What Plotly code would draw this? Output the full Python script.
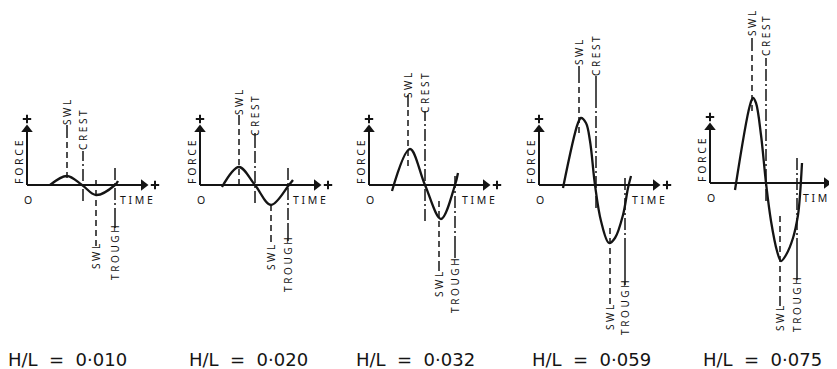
import plotly.graph_objects as go

W, H = 837, 369

# ---------------- data (time / force, arbitrary units, origin of each panel = 0,0) ----------------
NB = "\u00a0"
ratio_values = ["0·010", "0·020", "0·032", "0·059", "0·075"]
ratio_labels = ["H/L" + NB * 2 + "=" + NB * 2 + v for v in ratio_values]

curve_time = [
    [23, 40, 55, 69, 88, 91],
    [22, 39, 55, 71, 89, 93],
    [23, 41, 56, 72, 86, 89],
    [24, 39, 42, 47, 51, 56, 62, 70, 76, 84, 89, 92],
    [25, 40, 43, 46, 51, 56, 61, 67, 71, 76, 83, 88, 90, 92],
]
curve_force = [
    [0, 9, 0, -10, 0, 4],
    [-2, 18, 0, -20, 0, 5],
    [-6, 36, 0, -34, 0, 12],
    [-3, 62, 67, 62, 44, 0, -36, -58, -53, -30, -3, 9],
    [-7, 78, 85, 80, 48, 0, -38, -68, -78, -72, -55, -32, -12, 20],
]

# SWL line at crest: time, dashed from f0 to f1, solid stub to f2, label centre
crest_swl_time = [40, 39, 39, 40, 42]
crest_swl_f = [[7, 49, 60, 72], [0, 60, 70, 82], [19, 78, 90, 99], [52, 105, 119, 132], [72, 138, 145, 159]]
# CREST line
crest_time = [56, 55, 56, 57, 56]
crest_f = [[-16, 27, 34, 55], [-18, 37, 52, 69], [-36, 69, 74, 92], [-23, 77, 109, 129], [-18, 118, 125, 147]]
# SWL line at trough
trough_swl_time = [69, 71, 70, 71, 70]
trough_swl_f = [[5, -55, -61, -72], [-20, -50, -57, -73], [-16, -78, -86, -100], [-43, -113, -119, -133], [-33, -117, -123, -136]]
# TROUGH line
trough_time = [88, 88, 86, 86, 87]
trough_f = [[17, -28, -43, -68], [17, -38, -56, -80], [9, -63, -73, -101], [7, -55, -100, -123], [25, -55, -97, -122]]

# ---------------- layout of the panels (pixel position of each origin) ----------------
origin_x = [19, 192, 361, 531, 702]
origin_y = [177, 177, 177, 177, 175]
label_left_x = [8, 189, 356, 532, 703]
TIME_AXIS_LEN = 121
FORCE_AXIS_LEN = 60
INK = "#141414"
FONT = "Noto Sans"

fig = go.Figure()
annotations = []
shapes = []

for i in range(5):
    sfx = "" if i == 0 else str(i + 1)
    xa, ya = "x" + sfx, "y" + sfx
    ox, oy = origin_x[i], origin_y[i]
    xdict = dict(domain=[0, 1], range=[-ox, W - ox], visible=False, fixedrange=True, anchor=ya)
    ydict = dict(domain=[0, 1], range=[oy - H, oy], visible=False, fixedrange=True, anchor=xa)
    if i:
        xdict["overlaying"] = "x"
        ydict["overlaying"] = "y"
    fig.update_layout(**{"xaxis" + sfx: xdict, "yaxis" + sfx: ydict})

    # axes
    fig.add_trace(go.Scatter(x=[0, TIME_AXIS_LEN - 6], y=[0, 0], mode="lines",
                             line=dict(color=INK, width=2), xaxis=xa, yaxis=ya, hoverinfo="skip"))
    fig.add_trace(go.Scatter(x=[0, 0], y=[0, FORCE_AXIS_LEN - 6], mode="lines",
                             line=dict(color=INK, width=2), xaxis=xa, yaxis=ya, hoverinfo="skip"))
    fig.add_trace(go.Scatter(x=[TIME_AXIS_LEN - 4.5], y=[0], mode="markers",
                             marker=dict(symbol="triangle-right", size=10, color=INK, line=dict(width=0)),
                             xaxis=xa, yaxis=ya, hoverinfo="skip"))
    fig.add_trace(go.Scatter(x=[0], y=[FORCE_AXIS_LEN - 4.5], mode="markers",
                             marker=dict(symbol="triangle-up", size=10, color=INK, line=dict(width=0)),
                             xaxis=xa, yaxis=ya, hoverinfo="skip"))
    fig.add_trace(go.Scatter(x=[TIME_AXIS_LEN + 7, 0], y=[0, FORCE_AXIS_LEN + 6], mode="markers",
                             marker=dict(symbol="cross-thin", size=6, line=dict(color=INK, width=2)),
                             xaxis=xa, yaxis=ya, hoverinfo="skip"))

    # force curve
    fig.add_trace(go.Scatter(x=curve_time[i], y=curve_force[i], mode="lines",
                             line=dict(color=INK, width=2.3, shape="spline", smoothing=1.0),
                             xaxis=xa, yaxis=ya, hoverinfo="skip"))

    # guide lines
    def guide(t, f, dash, label):
        shapes.append(dict(type="line", xref=xa, yref=ya, x0=t, x1=t, y0=f[0], y1=f[1],
                           line=dict(color=INK, width=1.5, dash=dash)))
        shapes.append(dict(type="line", xref=xa, yref=ya, x0=t, x1=t, y0=f[1], y1=f[2],
                           line=dict(color=INK, width=1.5)))
        annotations.append(dict(xref=xa, yref=ya, x=t, y=f[3], text=label, showarrow=False,
                                textangle=-90, xanchor="center", yanchor="middle",
                                font=dict(family=FONT, size=10, color=INK)))

    guide(crest_swl_time[i], crest_swl_f[i], "6px,4px", "S W L")
    guide(crest_time[i], crest_f[i], "12px,3px,2px,3px", "C R E S T")
    guide(trough_swl_time[i], trough_swl_f[i], "6px,4px", "S W L")
    guide(trough_time[i], trough_f[i], "12px,3px,2px,3px", "T R O U G H")

    # axis labels
    annotations.append(dict(xref=xa, yref=ya, x=1, y=-15, text="O", showarrow=False,
                            xanchor="center", yanchor="middle", font=dict(family=FONT, size=10.5, color=INK)))
    annotations.append(dict(xref=xa, yref=ya, x=109, y=-15, text="T I M E", showarrow=False,
                            xanchor="center", yanchor="middle", font=dict(family=FONT, size=10.5, color=INK)))
    annotations.append(dict(xref=xa, yref=ya, x=-8, y=23, text="F O R C E", showarrow=False, textangle=-90,
                            xanchor="center", yanchor="middle", font=dict(family=FONT, size=10.5, color=INK)))
    # H/L caption
    annotations.append(dict(xref=xa, yref=ya, x=label_left_x[i] - ox, y=oy - 351, text=ratio_labels[i],
                            showarrow=False, xanchor="left", yanchor="middle", align="left", xshift=-10,
                            font=dict(family="DejaVu Sans", size=18, color=INK)))

fig.update_layout(width=W, height=H, margin=dict(l=0, r=0, t=0, b=0, pad=0),
                  paper_bgcolor="white", plot_bgcolor="rgba(0,0,0,0)", showlegend=False,
                  annotations=annotations, shapes=shapes)
fig.write_html("out.html")
